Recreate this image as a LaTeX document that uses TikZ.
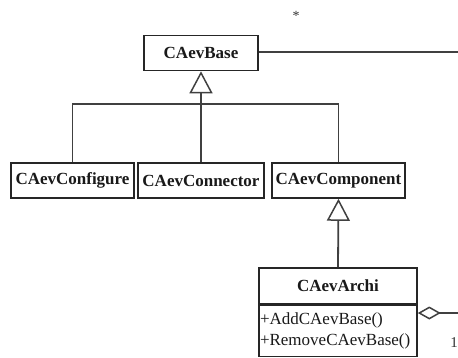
\documentclass[tikz,border=0pt]{standalone}
\usepackage{fontspec}
\setmainfont{Liberation Serif}
\usetikzlibrary{arrows.meta,positioning}

\tikzset{
  cls/.style={draw=black!85,line width=1.6pt,minimum height=35pt,inner sep=2pt,
    font=\fontsize{17}{19}\selectfont\bfseries,text=black!90},
  ops/.style={draw=black!85,line width=1.6pt,minimum height=51pt,inner xsep=1pt,inner ysep=3pt,
    font=\fontsize{17}{21.5}\selectfont,text=black!90,align=left,text width=156pt},
  link/.style={draw=black!75,line width=1.8pt},
  inherit/.style={link,-{Triangle[open,length=22pt,width=23pt,line width=1.5pt]}},
  aggr/.style={link,-{Diamond[open,length=23pt,width=13pt,line width=1.5pt]}}
}

\begin{document}
\begin{tikzpicture}[x={(1pt,0)},y={(0,-1pt)}]
\useasboundingbox (0,0) rectangle (458,357);
\node[cls,minimum width=114pt] (base) at (201,53) {CAevBase};
\node[cls,minimum width=123pt] (conf) at (72.5,180.5) {CAevConfigure};
\node[cls,minimum width=126pt] (conn) at (201,180.5) {CAevConnector};
\node[cls,minimum width=133pt] (comp) at (338.5,180.5) {CAevComponent};
\node[cls,minimum width=158pt,minimum height=36pt] (archi) at (338,286) {CAevArchi};
\node[ops,anchor=north] (archiops) at (archi.south) {+AddCAevBase()\\+RemoveCAevBase()};
\coordinate (bar) at (201,104);
\coordinate (baseend) at (458,52);
\coordinate (aggend) at (458,313);
% generalisation
\draw[inherit] (conn.north) -- (base.south);
\draw[link] (conf.north) |- (bar) -| (comp.north);
\draw[inherit] (archi.north) -- (comp.south);
% association with multiplicities
\draw[link] (base.east |- baseend) -- (baseend);
\draw[aggr] (aggend) -- (archiops.east |- aggend);
\node[font=\fontsize{14}{14}\selectfont,text=black!80] (many) at (296,16) {*};
\node[font=\fontsize{15}{15}\selectfont,text=black!80] (one) at (454,343) {1};
\end{tikzpicture}
\end{document}
